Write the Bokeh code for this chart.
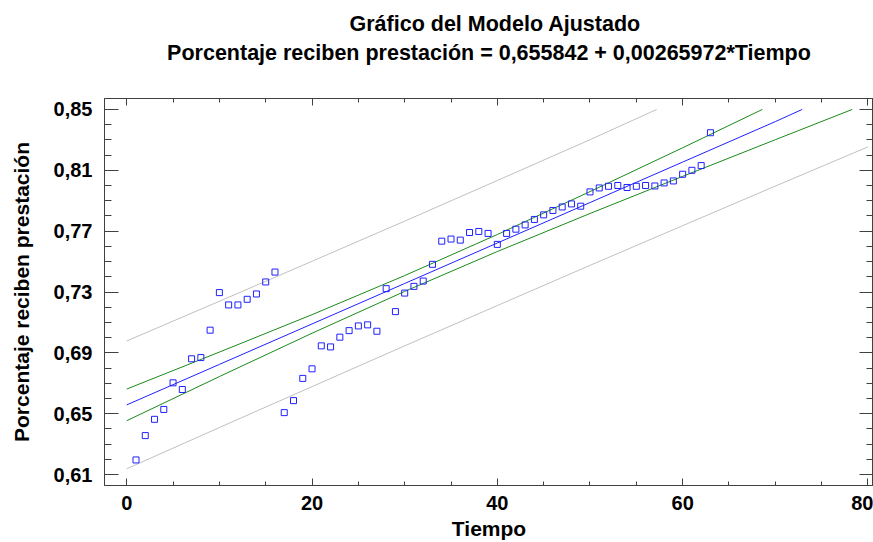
from bokeh.plotting import figure
from bokeh.models import LinearAxis, FixedTicker, CustomJSTickFormatter, Title, Range1d
from bokeh.embed import file_html
from bokeh.resources import INLINE

# ---- data ----
tiempo = [1, 2, 3, 4, 5, 6, 7, 8, 9, 10, 11, 12, 13, 14, 15, 16, 17, 18, 19, 20, 21,
          22, 23, 24, 25, 26, 27, 28, 29, 30, 31, 32, 33, 34, 35, 36, 37, 38, 39, 40, 41,
          42, 43, 44, 45, 46, 47, 48, 49, 50, 51, 52, 53, 54, 55, 56, 57, 58, 59, 60, 61,
          62, 63]
porcentaje = [0.6196, 0.6356, 0.6463, 0.6528, 0.6703, 0.6659, 0.6861, 0.6869, 0.7049,
              0.7296, 0.7215, 0.7215, 0.7252, 0.7287, 0.7366, 0.7431, 0.6507, 0.6586,
              0.6732, 0.6795, 0.6946, 0.6939, 0.7003, 0.7046, 0.7077, 0.7084, 0.7042,
              0.7322, 0.7171, 0.7293, 0.7337, 0.7372, 0.7482, 0.7634, 0.7648, 0.7641,
              0.7691, 0.7698, 0.7685, 0.7613, 0.7685, 0.7713, 0.7741, 0.7777, 0.7807,
              0.7836, 0.7859, 0.7879, 0.7864, 0.7958, 0.7984, 0.7995, 0.8000, 0.7987,
              0.7995, 0.8000, 0.7997, 0.8017, 0.8030, 0.8074, 0.8100, 0.8131, 0.8347]

# fitted line
fit_x = [0, 10, 20, 30, 40, 50, 60, 70, 72.9]
fit_y = [0.6558, 0.6824, 0.7090, 0.7356, 0.7622, 0.7888, 0.8154, 0.8420, 0.8500]
# confidence limits
conf_up_x = [0, 10, 20, 30, 40, 50, 60, 68.6]
conf_up_y = [0.6662, 0.6905, 0.7151, 0.7408, 0.7678, 0.7960, 0.8248, 0.8500]
conf_lo_x = [0, 10, 20, 30, 40, 50, 60, 70, 78.3]
conf_lo_y = [0.6454, 0.6744, 0.7029, 0.7304, 0.7566, 0.7816, 0.8060, 0.8301, 0.8500]
# prediction limits
pred_up_x = [0, 10, 20, 30, 40, 50, 57.2]
pred_up_y = [0.6978, 0.7239, 0.7502, 0.7766, 0.8033, 0.8301, 0.8500]
pred_lo_x = [0, 10, 20, 30, 40, 50, 60, 70, 80]
pred_lo_y = [0.6138, 0.6409, 0.6678, 0.6946, 0.7211, 0.7475, 0.7736, 0.7996, 0.8254]

x_ticks = [0, 20, 40, 60, 80]
x_minor = [5, 10, 15, 25, 30, 35, 45, 50, 55, 65, 70, 75]
y_ticks = [0.61, 0.65, 0.69, 0.73, 0.77, 0.81, 0.85]
y_minor = [0.62, 0.63, 0.64, 0.66, 0.67, 0.68, 0.70, 0.71, 0.72, 0.74, 0.75, 0.76,
           0.78, 0.79, 0.80, 0.82, 0.83, 0.84]

title1 = "Gráfico del Modelo Ajustado"
title2 = "Porcentaje reciben prestación = 0,655842 + 0,00265972*Tiempo"

FONT = "Liberation Sans"
AX = "#404040"

p = figure(width=873, height=542, x_range=Range1d(-2.4, 80.6), y_range=Range1d(0.6028, 0.8572),
           output_backend="svg", toolbar_location=None, title=None,
           min_border_left=104, min_border_right=0, min_border_top=98, min_border_bottom=56,
           x_axis_label="Tiempo", y_axis_label="Porcentaje reciben prestación")
p.grid.visible = False
p.outline_line_color = AX
p.background_fill_color = "white"
p.border_fill_color = "white"

xt = FixedTicker(ticks=x_ticks, minor_ticks=x_minor)
yt = FixedTicker(ticks=y_ticks, minor_ticks=y_minor)
yfmt = CustomJSTickFormatter(code="return tick.toFixed(2).replace('.', ',');")
blank = CustomJSTickFormatter(code="return '';")

def style(ax, major, minor):
    ax.axis_line_color = AX
    ax.major_tick_line_color = AX
    ax.minor_tick_line_color = AX
    ax.major_tick_in = major
    ax.major_tick_out = 0
    ax.minor_tick_in = minor
    ax.minor_tick_out = 0
    ax.major_label_text_font = FONT
    ax.major_label_text_font_style = "bold"
    ax.major_label_text_font_size = "20px"
    ax.major_label_text_color = "black"
    ax.axis_label_text_font = FONT
    ax.axis_label_text_font_style = "bold"
    ax.axis_label_text_font_size = "21px"
    ax.axis_label_text_color = "black"

xa = p.xaxis[0]
xa.ticker = xt
style(xa, 7, 4)
xa.major_label_standoff = 10
xa.axis_label_standoff = 4

ya = p.yaxis[0]
ya.ticker = yt
ya.formatter = yfmt
style(ya, 14, 7)
ya.major_label_standoff = 12
ya.axis_label_standoff = 18

# top axis: mirrored ticks, carries the equation line as its label
top = LinearAxis(ticker=xt, formatter=blank, axis_label=title2)
style(top, 7, 4)
top.major_label_text_font_size = "1px"
top.major_label_standoff = 0
top.axis_label_standoff = 34
top.axis_label_text_font_size = "21.5px"
p.add_layout(top, "above")

right = LinearAxis(ticker=yt, formatter=blank)
style(right, 14, 7)
right.major_label_text_font_size = "1px"
right.major_label_standoff = 0
p.add_layout(right, "right")

p.add_layout(Title(text=title1, align="left", offset=245, text_font=FONT, text_font_style="bold",
                   text_font_size="21.5px", text_color="black", standoff=4), "above")

p.line(pred_up_x, pred_up_y, line_color="#c0c0c0", line_width=1)
p.line(pred_lo_x, pred_lo_y, line_color="#c0c0c0", line_width=1)
p.line(conf_up_x, conf_up_y, line_color="#1a8a1a", line_width=1)
p.line(conf_lo_x, conf_lo_y, line_color="#1a8a1a", line_width=1)
p.line(fit_x, fit_y, line_color="#2020ff", line_width=1)
p.scatter(tiempo, porcentaje, marker="square", size=6, fill_color=None,
          line_color="#2020ff", line_width=1)

open("out.html", "w").write(file_html(p, INLINE))
